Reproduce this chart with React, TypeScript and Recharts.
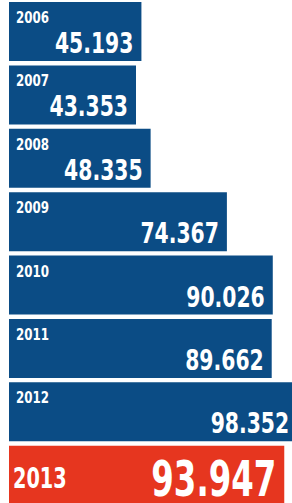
import React from "react";
import { BarChart, Bar, XAxis, YAxis, Cell, LabelList } from "recharts";

const years = ["2006", "2007", "2008", "2009", "2010", "2011", "2012", "2013"];
const values = [45.193, 43.353, 48.335, 74.367, 90.026, 89.662, 98.352, 93.947];
const highlightYear = "2013";

const data = years.map((year, i) => ({ year, value: values[i] }));

const BLUE = "#0b4c85";
const RED = "#e6361f";
const FONT = "'DejaVu Sans Condensed', 'DejaVu Sans', sans-serif";

const YearLabel = (props: any) => {
  const { x, y, value } = props;
  const big = value === highlightYear;
  const tx = big ? x + 4 : x + 7;
  const ty = big ? y + 42 : y + 21;
  return (
    <text
      transform={`translate(${tx},${ty}) scale(${big ? 0.74 : 0.88},1)`}
      x={0}
      y={0}
      fill="#ffffff"
      fontFamily={FONT}
      fontWeight="bold"
      fontSize={big ? 29 : 15}
    >
      {value}
    </text>
  );
};

const ValueLabel = (props: any) => {
  const { x, y, width, value, index } = props;
  const big = years[index] === highlightYear;
  const tx = x + width - 8;
  const ty = big ? y + 50 : y + 51;
  return (
    <text
      transform={`translate(${tx},${ty}) scale(${big ? 0.72 : 0.78},1)`}
      x={0}
      y={0}
      fill="#ffffff"
      fontFamily={FONT}
      fontWeight="bold"
      fontSize={big ? 50 : 29}
      textAnchor="end"
    >
      {Number(value).toFixed(3)}
    </text>
  );
};

export default function App() {
  return (
    <div
      style={{
        position: "fixed",
        top: 0,
        left: 0,
        width: 292,
        height: 503,
        overflow: "hidden",
        background: "#ffffff",
      }}
    >
      <BarChart
        width={302}
        height={507}
        data={data}
        layout="vertical"
        margin={{ top: 0, right: 0, left: 9, bottom: 0 }}
      >
        <XAxis type="number" domain={[0, 100]} hide />
        <YAxis type="category" dataKey="year" hide />
        <Bar dataKey="value" barSize={59} isAnimationActive={false}>
          {data.map((d) => (
            <Cell key={d.year} fill={d.year === highlightYear ? RED : BLUE} />
          ))}
          <LabelList dataKey="year" content={<YearLabel />} />
          <LabelList dataKey="value" content={<ValueLabel />} />
        </Bar>
      </BarChart>
    </div>
  );
}
